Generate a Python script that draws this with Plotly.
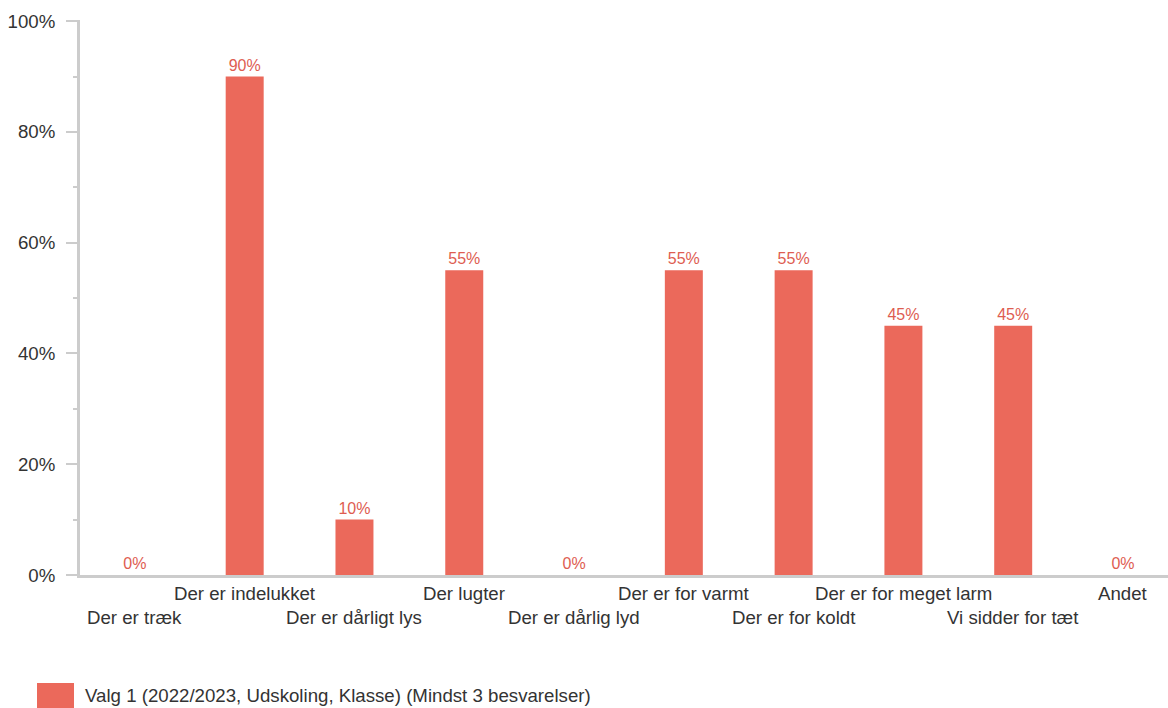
import plotly.graph_objects as go

categories = ["Der er træk", "Der er indelukket", "Der er dårligt lys", "Der lugter",
              "Der er dårlig lyd", "Der er for varmt", "Der er for koldt",
              "Der er for meget larm", "Vi sidder for tæt", "Andet"]
values = [0, 90, 10, 55, 0, 55, 55, 45, 45, 0]
series_name = "Valg 1 (2022/2023, Udskoling, Klasse) (Mindst 3 besvarelser)"
y_ticks = [0, 20, 40, 60, 80, 100]

BAR = "#EB695B"
LABEL = "#DE5D51"
TEXT = "#333333"
AX = "#CCCCCC"
FONT = "Arial, Liberation Sans, sans-serif"
FS = 18.67

fig = go.Figure()
fig.add_trace(go.Bar(
    x=list(range(len(categories))), y=values, name=series_name,
    marker=dict(color=BAR, line=dict(width=0)), width=0.346,
    text=[f"{v}%" for v in values], textposition="outside",
    textfont=dict(color=LABEL, size=16, family=FONT),
    cliponaxis=False, showlegend=False, hoverinfo="skip",
))

annotations = []
for i, c in enumerate(categories):
    annotations.append(dict(
        x=i, xref="x", y=0, yref="paper", yanchor="middle", xanchor="center",
        yshift=-18 if i % 2 == 1 else -42, text=c, showarrow=False,
        font=dict(size=FS, color=TEXT, family=FONT),
    ))
annotations.append(dict(
    x=0, xref="paper", xshift=3, xanchor="left", y=0, yref="paper", yshift=-120,
    yanchor="middle", text=series_name, showarrow=False,
    font=dict(size=FS, color=TEXT, family=FONT),
))

fig.update_layout(
    width=1168, height=708,
    margin=dict(l=80, r=0, t=20, b=133),
    paper_bgcolor="white", plot_bgcolor="white",
    font=dict(family=FONT, color=TEXT),
    annotations=annotations,
    shapes=[dict(type="rect", xref="paper", yref="paper",
                 xsizemode="pixel", ysizemode="pixel", xanchor=0, yanchor=0,
                 x0=-43, x1=-6, y0=-108, y1=-134,
                 fillcolor=BAR, line=dict(width=0))],
    hovermode=False,
    xaxis=dict(range=[-0.5, 9.41], showticklabels=False, ticks="", showgrid=False,
               zeroline=False, showline=True, linecolor=AX, linewidth=3, fixedrange=True),
    yaxis=dict(range=[0, 100.2], tickvals=y_ticks, ticktext=[f"{v}%" for v in y_ticks],
               ticks="outside", ticklen=11, tickwidth=2, tickcolor=AX,
               minor=dict(dtick=10, ticks="outside", ticklen=4, tickwidth=2, tickcolor=AX),
               showgrid=False, zeroline=False, showline=True, linecolor=AX, linewidth=3,
               tickfont=dict(size=FS, color=TEXT, family=FONT), ticklabelstandoff=7,
               fixedrange=True),
)

fig.write_html("out.html", config={"displayModeBar": False},
               post_script="document.body.style.margin='0';document.body.style.overflow='hidden';")
